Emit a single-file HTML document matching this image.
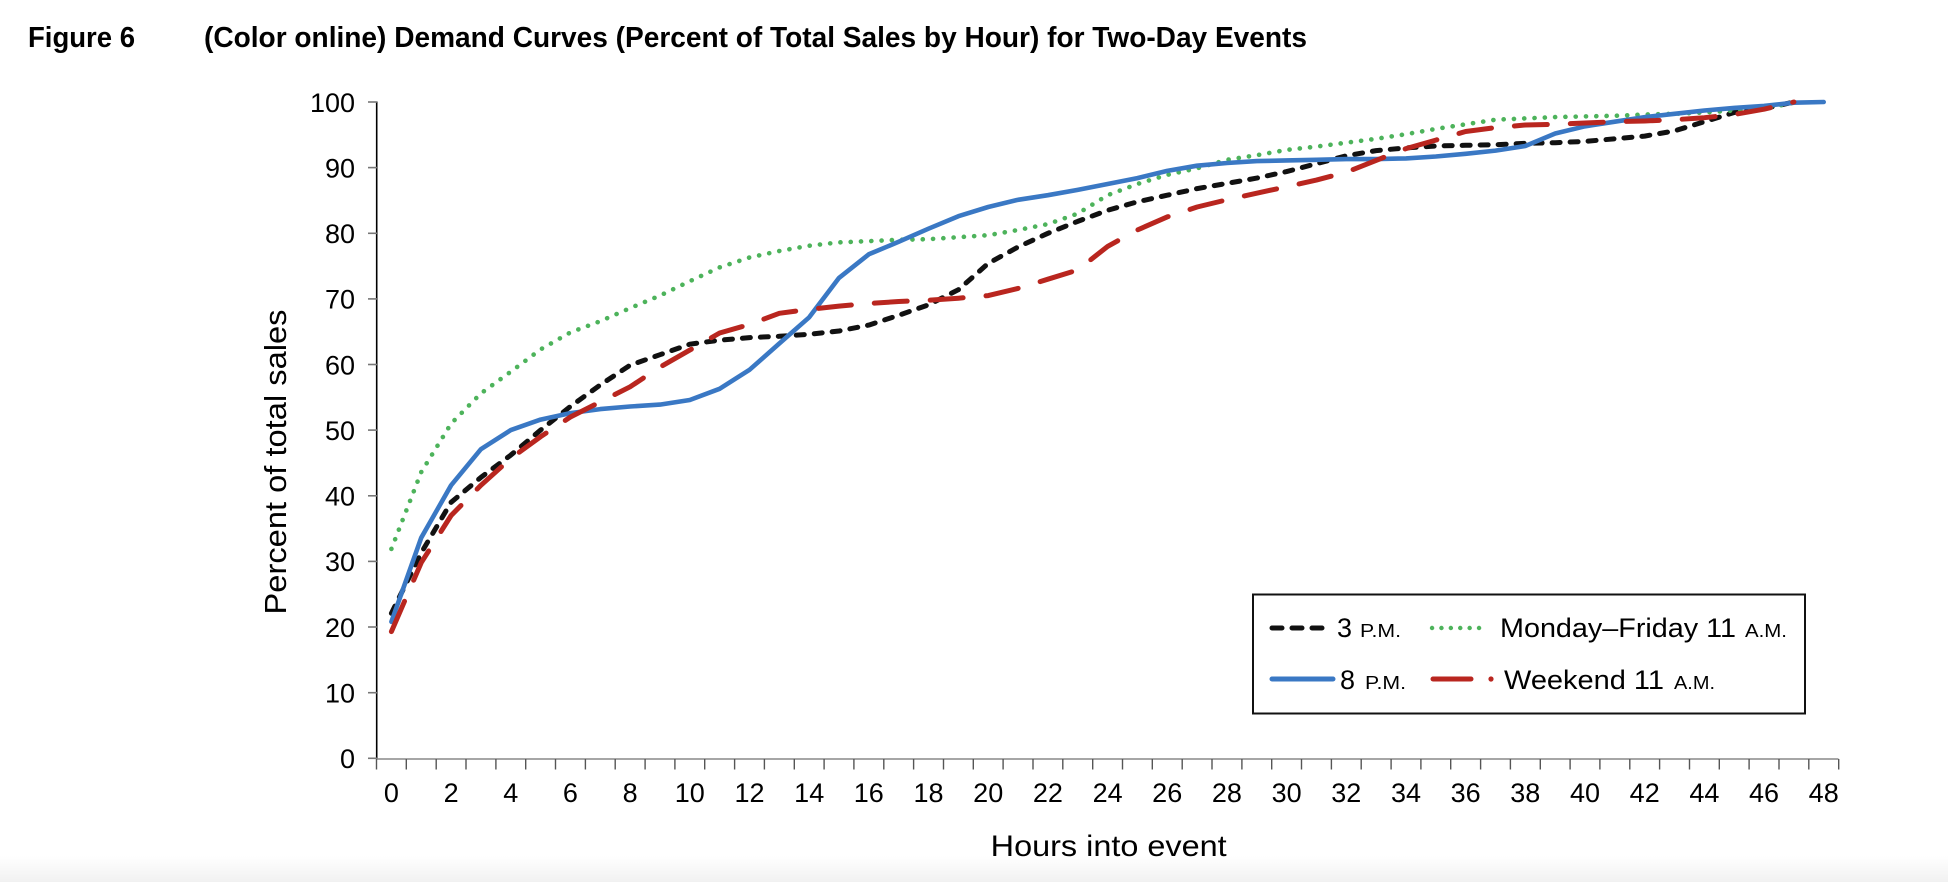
<!DOCTYPE html>
<html>
<head>
<meta charset="utf-8">
<style>
  html, body { margin: 0; padding: 0; background: #ffffff; }
  body { width: 1948px; height: 882px; overflow: hidden; }
  svg { display: block; }
  text { font-family: "Liberation Sans", Arial, sans-serif; fill: #000; }
  .ttl { font-family: "Liberation Sans Narrow", "Liberation Sans", sans-serif; font-weight: bold; }
</style>
</head>
<body>
<svg width="1948" height="882" viewBox="0 0 1948 882" xmlns="http://www.w3.org/2000/svg">
  <defs>
    <linearGradient id="bot" x1="0" y1="0" x2="0" y2="1">
      <stop offset="0" stop-color="#ffffff"/>
      <stop offset="1" stop-color="#f1f1f1"/>
    </linearGradient>
  </defs>
  <rect x="0" y="0" width="1948" height="882" fill="#ffffff"/>
  <rect x="0" y="856" width="1948" height="26" fill="url(#bot)"/>

  <!-- Title -->
  <text class="ttl" x="28" y="47" font-size="28.5" textLength="107" lengthAdjust="spacingAndGlyphs">Figure 6</text>
  <text class="ttl" x="204" y="47" font-size="28.5" textLength="1103" lengthAdjust="spacingAndGlyphs">(Color online) Demand Curves (Percent of Total Sales by Hour) for Two-Day Events</text>

  <!-- Y axis -->
  <line x1="376.7" y1="101.5" x2="376.7" y2="759" stroke="#000" stroke-width="1.6"/>
  <g stroke="#777" stroke-width="1.6">
    <line x1="368" y1="758.3" x2="377" y2="758.3"/>
    <line x1="368" y1="692.7" x2="377" y2="692.7"/>
    <line x1="368" y1="627.0" x2="377" y2="627.0"/>
    <line x1="368" y1="561.4" x2="377" y2="561.4"/>
    <line x1="368" y1="495.8" x2="377" y2="495.8"/>
    <line x1="368" y1="430.1" x2="377" y2="430.1"/>
    <line x1="368" y1="364.5" x2="377" y2="364.5"/>
    <line x1="368" y1="298.9" x2="377" y2="298.9"/>
    <line x1="368" y1="233.3" x2="377" y2="233.3"/>
    <line x1="368" y1="167.6" x2="377" y2="167.6"/>
    <line x1="368" y1="102.0" x2="377" y2="102.0"/>
  </g>
  <g font-size="27" text-anchor="end">
    <text x="355" y="768.1">0</text>
    <text x="355" y="702.5">10</text>
    <text x="355" y="636.8">20</text>
    <text x="355" y="571.2">30</text>
    <text x="355" y="505.6">40</text>
    <text x="355" y="439.9">50</text>
    <text x="355" y="374.3">60</text>
    <text x="355" y="308.7">70</text>
    <text x="355" y="243.1">80</text>
    <text x="355" y="177.4">90</text>
    <text x="355" y="111.8">100</text>
  </g>

  <!-- X axis -->
  <line x1="376" y1="759" x2="1838.5" y2="759" stroke="#888" stroke-width="1.6"/>
  <g stroke="#555" stroke-width="1.4">
    <line x1="376.5" y1="759" x2="376.5" y2="769.5"/><line x1="406.3" y1="759" x2="406.3" y2="769.5"/><line x1="436.2" y1="759" x2="436.2" y2="769.5"/><line x1="466.0" y1="759" x2="466.0" y2="769.5"/><line x1="495.9" y1="759" x2="495.9" y2="769.5"/>
    <line x1="525.7" y1="759" x2="525.7" y2="769.5"/><line x1="555.5" y1="759" x2="555.5" y2="769.5"/><line x1="585.4" y1="759" x2="585.4" y2="769.5"/><line x1="615.2" y1="759" x2="615.2" y2="769.5"/><line x1="645.1" y1="759" x2="645.1" y2="769.5"/>
    <line x1="674.9" y1="759" x2="674.9" y2="769.5"/><line x1="704.7" y1="759" x2="704.7" y2="769.5"/><line x1="734.6" y1="759" x2="734.6" y2="769.5"/><line x1="764.4" y1="759" x2="764.4" y2="769.5"/><line x1="794.3" y1="759" x2="794.3" y2="769.5"/>
    <line x1="824.1" y1="759" x2="824.1" y2="769.5"/><line x1="853.9" y1="759" x2="853.9" y2="769.5"/><line x1="883.8" y1="759" x2="883.8" y2="769.5"/><line x1="913.6" y1="759" x2="913.6" y2="769.5"/><line x1="943.5" y1="759" x2="943.5" y2="769.5"/>
    <line x1="973.3" y1="759" x2="973.3" y2="769.5"/><line x1="1003.1" y1="759" x2="1003.1" y2="769.5"/><line x1="1033.0" y1="759" x2="1033.0" y2="769.5"/><line x1="1062.8" y1="759" x2="1062.8" y2="769.5"/><line x1="1092.7" y1="759" x2="1092.7" y2="769.5"/>
    <line x1="1122.5" y1="759" x2="1122.5" y2="769.5"/><line x1="1152.3" y1="759" x2="1152.3" y2="769.5"/><line x1="1182.2" y1="759" x2="1182.2" y2="769.5"/><line x1="1212.0" y1="759" x2="1212.0" y2="769.5"/><line x1="1241.9" y1="759" x2="1241.9" y2="769.5"/>
    <line x1="1271.7" y1="759" x2="1271.7" y2="769.5"/><line x1="1301.5" y1="759" x2="1301.5" y2="769.5"/><line x1="1331.4" y1="759" x2="1331.4" y2="769.5"/><line x1="1361.2" y1="759" x2="1361.2" y2="769.5"/><line x1="1391.1" y1="759" x2="1391.1" y2="769.5"/>
    <line x1="1420.9" y1="759" x2="1420.9" y2="769.5"/><line x1="1450.7" y1="759" x2="1450.7" y2="769.5"/><line x1="1480.6" y1="759" x2="1480.6" y2="769.5"/><line x1="1510.4" y1="759" x2="1510.4" y2="769.5"/><line x1="1540.3" y1="759" x2="1540.3" y2="769.5"/>
    <line x1="1570.1" y1="759" x2="1570.1" y2="769.5"/><line x1="1599.9" y1="759" x2="1599.9" y2="769.5"/><line x1="1629.8" y1="759" x2="1629.8" y2="769.5"/><line x1="1659.6" y1="759" x2="1659.6" y2="769.5"/><line x1="1689.5" y1="759" x2="1689.5" y2="769.5"/>
    <line x1="1719.3" y1="759" x2="1719.3" y2="769.5"/><line x1="1749.1" y1="759" x2="1749.1" y2="769.5"/><line x1="1779.0" y1="759" x2="1779.0" y2="769.5"/><line x1="1808.8" y1="759" x2="1808.8" y2="769.5"/><line x1="1838.7" y1="759" x2="1838.7" y2="769.5"/>
  </g>
  <g font-size="27" text-anchor="middle">
    <text x="391.4" y="802">0</text>
    <text x="451.1" y="802">2</text>
    <text x="510.8" y="802">4</text>
    <text x="570.4" y="802">6</text>
    <text x="630.1" y="802">8</text>
    <text x="689.8" y="802">10</text>
    <text x="749.5" y="802">12</text>
    <text x="809.2" y="802">14</text>
    <text x="868.8" y="802">16</text>
    <text x="928.5" y="802">18</text>
    <text x="988.2" y="802">20</text>
    <text x="1047.9" y="802">22</text>
    <text x="1107.6" y="802">24</text>
    <text x="1167.2" y="802">26</text>
    <text x="1226.9" y="802">28</text>
    <text x="1286.6" y="802">30</text>
    <text x="1346.3" y="802">32</text>
    <text x="1406.0" y="802">34</text>
    <text x="1465.6" y="802">36</text>
    <text x="1525.3" y="802">38</text>
    <text x="1585.0" y="802">40</text>
    <text x="1644.7" y="802">42</text>
    <text x="1704.4" y="802">44</text>
    <text x="1764.0" y="802">46</text>
    <text x="1823.7" y="802">48</text>
  </g>

  <!-- Axis titles -->
  <text x="990.7" y="856" font-size="30" textLength="236" lengthAdjust="spacingAndGlyphs">Hours into event</text>
  <text transform="translate(286,462) rotate(-90)" x="0" y="0" font-size="31" text-anchor="middle" textLength="305" lengthAdjust="spacingAndGlyphs">Percent of total sales</text>

  <!-- Series: 3 P.M. (black dashed) -->
  <polyline fill="none" stroke="#111" stroke-width="5" stroke-dasharray="8 10" stroke-linecap="round" stroke-linejoin="round"
    points="391.4,613.3 421.2,552.9 451.1,502.3 480.9,477.4 510.8,455.1 540.6,430.1 570.4,406.5 600.3,384.9 630.1,365.2 660.0,354.7 689.8,344.2 719.6,340.2 749.5,337.6 779.3,336.3 809.2,334.3 839.0,331.0 868.8,325.1 898.7,315.3 928.5,304.8 958.4,289.7 988.2,263.4 1018.0,247.0 1047.9,233.3 1077.7,221.4 1107.6,210.3 1137.4,201.8 1167.2,195.2 1197.1,188.6 1226.9,183.4 1256.8,178.1 1286.6,171.6 1316.4,163.7 1346.3,155.8 1376.1,150.6 1406.0,147.9 1435.8,146.0 1465.6,145.3 1495.5,144.7 1525.3,143.3 1555.2,142.7 1585.0,141.4 1614.8,138.8 1644.7,136.1 1674.5,130.9 1704.4,121.7 1734.2,112.5 1764.0,108.6 1793.9,102.0"/>

  <!-- Series: Monday–Friday 11 A.M. (green dotted) -->
  <polyline fill="none" stroke="#4db35b" stroke-width="4.6" stroke-dasharray="0.1 10.2" stroke-linecap="round" stroke-linejoin="round"
    points="391.4,548.9 421.2,472.2 451.1,423.6 480.9,393.4 510.8,371.7 540.6,349.4 570.4,332.4 600.3,321.2 630.1,308.1 660.0,295.6 689.8,281.2 719.6,267.4 749.5,257.5 779.3,251.0 809.2,245.7 839.0,242.4 868.8,241.1 898.7,239.8 928.5,239.2 958.4,237.2 988.2,235.2 1018.0,230.0 1047.9,224.1 1077.7,213.6 1107.6,195.2 1137.4,184.0 1167.2,174.9 1197.1,168.3 1226.9,159.8 1256.8,155.2 1286.6,149.9 1316.4,146.6 1346.3,142.7 1376.1,138.8 1406.0,134.2 1435.8,128.9 1465.6,124.3 1495.5,119.7 1525.3,118.4 1555.2,117.1 1585.0,116.4 1614.8,115.8 1644.7,114.5 1674.5,113.8 1704.4,112.5 1734.2,110.5 1764.0,108.6 1793.9,102.7"/>

  <!-- Series: 8 P.M. (blue solid) -->
  <polyline fill="none" stroke="#3a78c4" stroke-width="4.6" stroke-linecap="round" stroke-linejoin="round"
    points="391.4,621.8 421.2,537.8 451.1,485.3 480.9,449.2 510.8,430.1 540.6,419.6 570.4,413.1 600.3,409.1 630.1,406.5 660.0,404.6 689.8,400.0 719.6,388.8 749.5,369.8 779.3,343.5 809.2,317.3 839.0,277.9 868.8,254.3 898.7,241.8 928.5,228.7 958.4,216.2 988.2,207.0 1018.0,199.8 1047.9,195.2 1077.7,189.9 1107.6,184.0 1137.4,178.1 1167.2,170.9 1197.1,165.7 1226.9,163.0 1256.8,161.1 1286.6,160.4 1316.4,159.8 1346.3,159.1 1376.1,159.1 1406.0,158.4 1435.8,156.5 1465.6,153.8 1495.5,150.6 1525.3,146.0 1555.2,133.5 1585.0,126.3 1614.8,121.7 1644.7,117.1 1674.5,113.8 1704.4,110.5 1734.2,107.9 1764.0,105.9 1793.9,102.7 1823.7,102.0"/>

  <!-- Series: Weekend 11 A.M. (red long dash) -->
  <polyline fill="none" stroke="#b9261f" stroke-width="5" stroke-dasharray="33 23" stroke-linecap="round" stroke-linejoin="round"
    points="391.4,631.6 421.2,562.7 451.1,515.5 480.9,485.3 510.8,458.4 540.6,436.7 570.4,417.0 600.3,401.9 630.1,386.8 660.0,367.1 689.8,350.1 719.6,333.0 749.5,324.5 779.3,313.3 809.2,309.4 839.0,306.1 868.8,303.5 898.7,301.5 928.5,300.2 958.4,298.2 988.2,295.6 1018.0,288.4 1047.9,279.2 1077.7,270.0 1107.6,246.4 1137.4,230.0 1167.2,216.9 1197.1,207.0 1226.9,199.8 1256.8,193.2 1286.6,186.7 1316.4,180.1 1346.3,172.2 1376.1,160.4 1406.0,148.6 1435.8,140.1 1465.6,131.5 1495.5,127.6 1525.3,125.0 1555.2,124.3 1585.0,123.0 1614.8,121.7 1644.7,121.0 1674.5,119.7 1704.4,117.7 1734.2,114.5 1764.0,109.2 1793.9,102.0"/>

  <!-- Legend -->
  <rect x="1253" y="594.5" width="552" height="119" fill="#ffffff" stroke="#111" stroke-width="2"/>
  <line x1="1272" y1="628" x2="1326" y2="628" stroke="#111" stroke-width="5" stroke-dasharray="10 10" stroke-linecap="round"/>
  <text x="1337" y="637" font-size="27">3</text>
  <text x="1360" y="637" font-size="18" textLength="41" lengthAdjust="spacingAndGlyphs">P.M.</text>
  <line x1="1432" y1="628" x2="1488" y2="628" stroke="#4db35b" stroke-width="4.4" stroke-dasharray="0.1 9.3" stroke-linecap="round"/>
  <text x="1500" y="637" font-size="27" textLength="236" lengthAdjust="spacingAndGlyphs">Monday–Friday 11</text>
  <text x="1745" y="637" font-size="18" textLength="42" lengthAdjust="spacingAndGlyphs">A.M.</text>

  <line x1="1272" y1="679" x2="1333" y2="679" stroke="#3a78c4" stroke-width="5" stroke-linecap="round"/>
  <text x="1340" y="689" font-size="27">8</text>
  <text x="1365" y="689" font-size="18" textLength="41" lengthAdjust="spacingAndGlyphs">P.M.</text>
  <line x1="1433" y1="679" x2="1471" y2="679" stroke="#b9261f" stroke-width="5" stroke-linecap="round"/>
  <circle cx="1491" cy="679" r="2.6" fill="#b9261f"/>
  <text x="1504" y="689" font-size="27" textLength="160" lengthAdjust="spacingAndGlyphs">Weekend 11</text>
  <text x="1674" y="689" font-size="18" textLength="41" lengthAdjust="spacingAndGlyphs">A.M.</text>
</svg>
</body>
</html>
